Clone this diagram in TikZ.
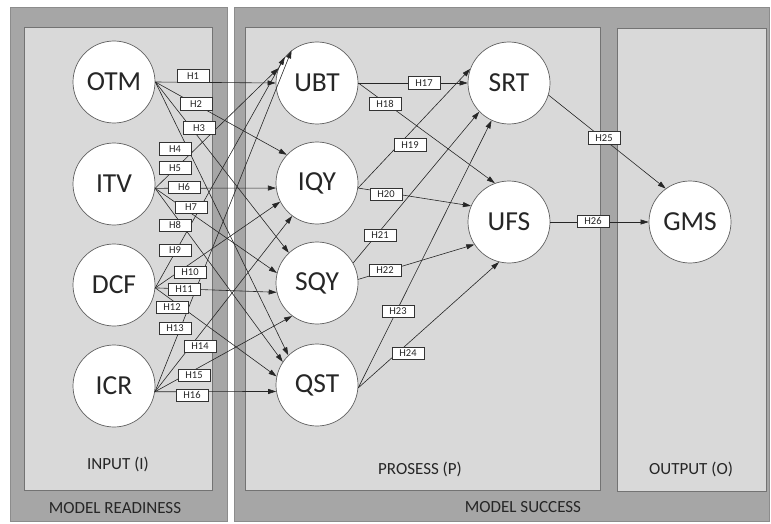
\documentclass[tikz,border=0pt]{standalone}
\usepackage{fontspec}
\setmainfont{Carlito}
\usetikzlibrary{arrows.meta}
\definecolor{outerfill}{HTML}{A6A6A6}
\definecolor{outerline}{HTML}{8C8C8C}
\definecolor{innerfill}{HTML}{D9D9D9}
\definecolor{innerline}{HTML}{737373}
\definecolor{edgecol}{HTML}{262626}
\definecolor{txtcol}{HTML}{262626}
\begin{document}
\begin{tikzpicture}[x=1pt,y=-1pt,
  construct/.style={circle, draw=black!62, line width=0.7pt, fill=white, minimum size=82pt, inner sep=0pt, font=\fontsize{27.5}{30}\selectfont, text=txtcol},
  hyp/.style={draw=black!80, line width=0.5pt, fill=white, minimum width=32pt, minimum height=12.5pt, inner sep=0pt, font=\fontsize{10.5}{11}\selectfont, text=txtcol},
  link/.style={draw=edgecol, line width=0.6pt, -{Triangle[length=8pt,width=5pt]}},
  plainlink/.style={draw=edgecol, line width=0.6pt},
  outerbox/.style={fill=outerfill, draw=outerline, line width=0.8pt},
  innerbox/.style={fill=innerfill, draw=innerline, line width=0.8pt},
  boxlabel/.style={font=\fontsize{17}{20}\selectfont, text=txtcol}
]
\useasboundingbox (0,0) rectangle (771,524);
\fill[white] (0,0) rectangle (771,524);
% panels
\draw[outerbox] (10,7.5) rectangle (227,521);
\draw[outerbox] (234,7.5) rectangle (769,521);
\draw[innerbox] (24,27) rectangle (212,490);
\draw[innerbox] (245,27) rectangle (600,490);
\draw[innerbox] (617,28) rectangle (766,491);
\node[boxlabel] (inlab) at (118,464) {INPUT (I)};
\node[boxlabel] (plab) at (420,469) {PROSESS (P)};
\node[boxlabel] (olab) at (691,469) {OUTPUT (O)};
\node[boxlabel] (mrlab) at (115,508) {MODEL READINESS};
\node[boxlabel] (mslab) at (523,507) {MODEL SUCCESS};
% constructs
\node[construct] (OTM) at (114,82) {OTM};
\node[construct] (ITV) at (114,184) {ITV};
\node[construct] (DCF) at (114,285) {DCF};
\node[construct] (ICR) at (114,386) {ICR};
\node[construct] (UBT) at (317,83) {UBT};
\node[construct] (IQY) at (317,183) {IQY};
\node[construct] (SQY) at (317,283) {SQY};
\node[construct] (QST) at (317,385) {QST};
\node[construct] (SRT) at (509,83) {SRT};
\node[construct] (UFS) at (509,222) {UFS};
\node[construct] (GMS) at (690,222) {GMS};
% input -> process
\draw[link] (OTM.east) -- (UBT.180);
\draw[link] (OTM.east) -- (IQY.137);
\draw[link] (OTM.east) -- (SQY.133);
\draw[link] (OTM.east) -- (QST.134);
\draw[link] (ITV.-6) -- (UBT.159);
\draw[link] (ITV.-6) -- (IQY.187);
\draw[link] (ITV.-6) -- (SQY.166);
\draw[link] (ITV.-6) -- (QST.146);
\draw[link] (DCF.-4) -- (UBT.141);
\draw[link] (DCF.-4) -- (IQY.207);
\draw[link] (DCF.-4) -- (SQY.193);
\draw[link] (DCF.-4) -- (QST.168);
\draw[link] (ICR.-8) -- (UBT.128);
\draw[link] (ICR.-8) -- (IQY.233);
\draw[link] (ICR.-8) -- (SQY.233);
\draw[link] (ICR.-8) -- (QST.189);
% process -> success
\draw[link] (UBT.east) -- (SRT.180);
\draw[link] (UBT.east) -- (UFS.110);
\draw[link] (IQY.-7) -- (SRT.160);
\draw[link] (IQY.-7) -- (UFS.157);
\draw[link] (SQY.29) -- (SRT.224);
\draw[link] (SQY.5) -- (UFS.213);
\draw[link] (QST.-4) -- (SRT.245);
\draw[link] (QST.-4) -- (UFS.256);
% success -> output
\draw[link] (SRT.-17) -- (GMS.126);
\draw[link] (UFS.east) -- (GMS.west);
% hypothesis labels
\node[hyp] (h1) at (193,76) {H1};
\node[hyp] (h2) at (196,104) {H2};
\node[hyp] (h3) at (199,128) {H3};
\node[hyp] (h4) at (175,149) {H4};
\node[hyp] (h5) at (175,168) {H5};
\node[hyp] (h6) at (184,187) {H6};
\node[hyp] (h7) at (191,207) {H7};
\node[hyp] (h8) at (175,225) {H8};
\node[hyp] (h9) at (175,250) {H9};
\node[hyp] (h10) at (190,272) {H10};
\node[hyp] (h11) at (184,289) {H11};
\node[hyp] (h12) at (172,307) {H12};
\node[hyp] (h13) at (175,328) {H13};
\node[hyp] (h14) at (200,346) {H14};
\node[hyp] (h15) at (194,375) {H15};
\node[hyp] (h16) at (192,395) {H16};
\node[hyp] (h17) at (424,83) {H17};
\node[hyp] (h18) at (385,104) {H18};
\node[hyp] (h19) at (410,145) {H19};
\node[hyp] (h20) at (386,194) {H20};
\node[hyp] (h21) at (380,235) {H21};
\node[hyp] (h22) at (385,270) {H22};
\node[hyp] (h23) at (398,311) {H23};
\node[hyp] (h24) at (408,353) {H24};
\node[hyp] (h25) at (604,138) {H25};
\node[hyp] (h26) at (593,221) {H26};
\end{tikzpicture}
\end{document}
